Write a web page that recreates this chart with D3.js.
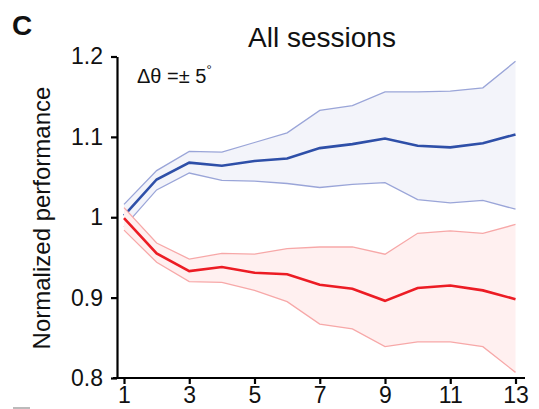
<!DOCTYPE html>
<html>
<head>
<meta charset="utf-8">
<script src="https://cdn.jsdelivr.net/npm/d3@7"></script>
<style>
  body { margin: 0; background: #fff; }
  svg { display: block; font-family: "Liberation Sans", Arial, sans-serif; }
</style>
</head>
<body>
<div id="chart"></div>
<script>
// sessions on x
const sessions = [1, 2, 3, 4, 5, 6, 7, 8, 9, 10, 11, 12, 13];

// blue group
const blueMean  = [1.002, 1.047, 1.068, 1.064, 1.070, 1.073, 1.086, 1.091, 1.098, 1.089, 1.087, 1.092, 1.103];
const blueUpper = [1.016, 1.058, 1.082, 1.081, 1.093, 1.105, 1.133, 1.139, 1.156, 1.156, 1.157, 1.161, 1.194];
const blueLower = [0.988, 1.034, 1.055, 1.046, 1.045, 1.042, 1.037, 1.041, 1.043, 1.022, 1.018, 1.021, 1.010];

// red group
const redMean  = [0.999, 0.955, 0.933, 0.938, 0.931, 0.929, 0.916, 0.911, 0.896, 0.912, 0.915, 0.909, 0.898];
const redUpper = [1.012, 0.968, 0.948, 0.955, 0.954, 0.961, 0.963, 0.963, 0.954, 0.980, 0.983, 0.980, 0.991];
const redLower = [0.984, 0.944, 0.920, 0.919, 0.909, 0.895, 0.867, 0.861, 0.839, 0.845, 0.845, 0.839, 0.807];

const xTicks = [1, 3, 5, 7, 9, 11, 13];
const yTicks = [0.8, 0.9, 1.0, 1.1, 1.2];
const yTickLabels = ["0.8", "0.9", "1", "1.1", "1.2"];

const width = 539, height = 409;

const svg = d3.select("#chart")
    .append("svg")
        .attr("width", width)
        .attr("height", height);

const x = d3.scaleLinear()
            .domain([1, 13])
            .range([124, 515.5]);

const y = d3.scaleLinear()
            .domain([0.8, 1.2])
            .range([378, 56.5]);

function drawGroup(mean, upper, lower, fill, edge, main) {
    const area = d3.area()
        .x((d, i) => x(sessions[i]))
        .y0((d, i) => y(lower[i]))
        .y1(d => y(d));
    svg.append("path")
        .datum(upper)
        .attr("d", area)
        .attr("fill", fill);

    const line = d3.line()
        .x((d, i) => x(sessions[i]))
        .y(d => y(d));

    [upper, lower].forEach(arr => {
        svg.append("path")
            .datum(arr)
            .attr("d", line)
            .attr("fill", "none")
            .attr("stroke", edge)
            .attr("stroke-width", 1.3);
    });

    svg.append("path")
        .datum(mean)
        .attr("d", line)
        .attr("fill", "none")
        .attr("stroke", main)
        .attr("stroke-width", 2.6);
}

drawGroup(blueMean, blueUpper, blueLower, "#f3f4fa", "#9aa5d8", "#2e4fa8");
drawGroup(redMean, redUpper, redLower, "#fff0f0", "#f7a8a8", "#ec1c24");

// y axis
const yAxis = d3.axisLeft(y)
    .tickValues(yTicks)
    .tickFormat((d, i) => yTickLabels[i])
    .tickSize(6)
    .tickSizeOuter(0)
    .tickPadding(8);

const gy = svg.append("g")
    .attr("transform", "translate(117,0)")
    .call(yAxis);

// x axis
const xAxis = d3.axisBottom(x)
    .tickValues(xTicks)
    .tickSize(6)
    .tickSizeOuter(0)
    .tickPadding(3);

const gx = svg.append("g")
    .attr("transform", "translate(0,378)")
    .call(xAxis);

gx.select(".domain").attr("d", "M113,0H525");

[gx, gy].forEach(g => {
    g.select(".domain").attr("stroke", "#000").attr("stroke-width", 2.2);
    g.selectAll(".tick line").attr("stroke", "#000").attr("stroke-width", 2.2);
    g.selectAll(".tick text")
        .attr("fill", "#111")
        .style("font-family", "'Liberation Sans', Arial, sans-serif")
        .style("font-size", "23px");
});

// labels
svg.append("text")
    .attr("x", 12)
    .attr("y", 35)
    .attr("font-size", 28)
    .attr("font-weight", "bold")
    .attr("fill", "#111")
    .text("C");

svg.append("text")
    .attr("x", 322)
    .attr("y", 47)
    .attr("text-anchor", "middle")
    .attr("font-size", 28)
    .attr("fill", "#111")
    .text("All sessions");

svg.append("text")
    .attr("transform", "translate(50,218) rotate(-90)")
    .attr("text-anchor", "middle")
    .attr("font-size", 24)
    .attr("fill", "#111")
    .text("Normalized performance");

const note = svg.append("text")
    .attr("x", 137)
    .attr("y", 83)
    .attr("font-size", 20)
    .attr("fill", "#111");
note.append("tspan").text("\u0394\u03b8 =\u00b1 5");
note.append("tspan")
    .attr("font-size", 13)
    .attr("dy", -9)
    .text("\u00b0");

// cropped mark at bottom edge
svg.append("line")
    .attr("x1", 13).attr("x2", 30)
    .attr("y1", 408).attr("y2", 408)
    .attr("stroke", "#bbb")
    .attr("stroke-width", 2);
</script>
</body>
</html>
